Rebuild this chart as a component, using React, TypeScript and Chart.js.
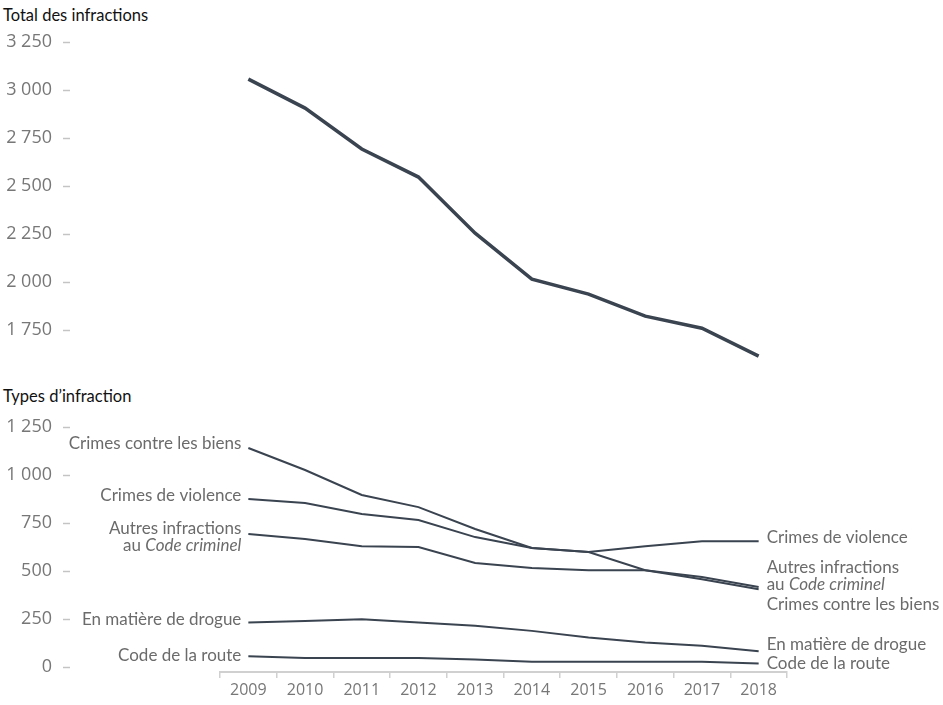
import { useEffect, useRef } from "react";
import { Chart, registerables } from "chart.js";

Chart.register(...registerables);

// ─── Data ────────────────────────────────────────────────────────
const YEARS = ["2009", "2010", "2011", "2012", "2013", "2014", "2015", "2016", "2017", "2018"];

const TOTAL = [3057, 2906, 2693, 2547, 2255, 2016, 1938, 1823, 1760, 1615];

const BIENS = [1141, 1026, 896, 833, 719, 620, 599, 505, 458, 406];
const VIOLENCE = [875, 854, 797, 766, 677, 620, 599, 630, 656, 656];
const AUTRES = [693, 667, 630, 625, 542, 516, 505, 505, 469, 417];
const DROGUE = [233, 241, 250, 233, 216, 189, 155, 129, 111, 83];
const ROUTE = [57, 48, 48, 48, 40, 28, 28, 28, 28, 19];

const TOP_TICKS = [1750, 2000, 2250, 2500, 2750, 3000, 3250];
const BOTTOM_TICKS = [0, 250, 500, 750, 1000, 1250];

type Seg = { text: string; italic?: boolean };

// Series names (lines of segments, italic where the source uses italics)
const SERIES_LABELS: Seg[][][] = [
  [[{ text: "Crimes contre les biens" }]],
  [[{ text: "Crimes de violence" }]],
  [[{ text: "Autres infractions" }], [{ text: "au " }, { text: "Code criminel", italic: true }]],
  [[{ text: "En matière de drogue" }]],
  [[{ text: "Code de la route" }]],
];

// label nudges (px) relative to first / last point
const LEFT_DY = [-4, -4, -6, -3, -1];
const RIGHT_DY = [15, -4, -20, -7, 0];

const LINE_COLOR = "#3a4350";
const TICK_COLOR = "#777777";
const DASH_COLOR = "#c4c4c4";
const LABEL_COLOR = "#6b6b6b";
const AXIS_W = 220;
const PAD_RIGHT = 156;

function fmtNum(v: number): string {
  return String(v).replace(/\B(?=(\d{3})+(?!\d))/g, " ");
}

// ─── Plugins ─────────────────────────────────────────────────────
// y tick labels drawn at the far left, followed by a short dash
const yTicksPlugin = {
  id: "yTicks",
  afterDraw(chart: Chart) {
    const { ctx } = chart;
    const y = chart.scales.y;
    ctx.save();
    ctx.font = "18px 'Open Sans', sans-serif";
    ctx.fillStyle = TICK_COLOR;
    ctx.textAlign = "right";
    ctx.textBaseline = "middle";
    ctx.strokeStyle = DASH_COLOR;
    ctx.lineWidth = 1.5;
    y.ticks.forEach((t) => {
      const py = y.getPixelForValue(t.value);
      ctx.fillText(fmtNum(t.value), 52, py);
      const ly = Math.round(py) + 0.5;
      ctx.beginPath();
      ctx.moveTo(63, ly);
      ctx.lineTo(70, ly);
      ctx.stroke();
    });
    ctx.restore();
  },
};

function drawLines(ctx: CanvasRenderingContext2D, lines: Seg[][], x: number, y: number, align: "left" | "right") {
  const size = 17;
  lines.forEach((line, li) => {
    const widths = line.map((s) => {
      ctx.font = `${s.italic ? "italic " : ""}${size}px Lato, sans-serif`;
      return ctx.measureText(s.text).width;
    });
    const total = widths.reduce((a, b) => a + b, 0);
    let cx = align === "right" ? x - total : x;
    line.forEach((s, si) => {
      ctx.font = `${s.italic ? "italic " : ""}${size}px Lato, sans-serif`;
      ctx.fillText(s.text, cx, y + li * 17);
      cx += widths[si];
    });
  });
}

const seriesLabelPlugin = {
  id: "seriesLabels",
  afterDatasetsDraw(chart: Chart) {
    const { ctx } = chart;
    ctx.save();
    ctx.fillStyle = LABEL_COLOR;
    ctx.textAlign = "left";
    ctx.textBaseline = "middle";
    chart.data.datasets.forEach((_, i) => {
      const meta = chart.getDatasetMeta(i);
      const first = meta.data[0];
      const last = meta.data[meta.data.length - 1];
      drawLines(ctx, SERIES_LABELS[i], first.x - 7, first.y + LEFT_DY[i], "right");
      drawLines(ctx, SERIES_LABELS[i], last.x + 8, last.y + RIGHT_DY[i], "left");
    });
    ctx.restore();
  },
};

function yScale(min: number, max: number, ticks: number[]) {
  return {
    min,
    max,
    afterFit: (s: { width: number }) => {
      s.width = AXIS_W;
    },
    afterBuildTicks: (s: { ticks: { value: number }[] }) => {
      s.ticks = ticks.map((v) => ({ value: v }));
    },
    grid: { display: false, drawTicks: false },
    border: { display: false },
    ticks: { display: false },
  };
}

// ─── Total chart ─────────────────────────────────────────────────
function TotalChart() {
  const canvasRef = useRef<HTMLCanvasElement>(null);
  useEffect(() => {
    if (!canvasRef.current) return;
    const chart = new Chart(canvasRef.current, {
      type: "line",
      plugins: [yTicksPlugin],
      data: {
        labels: YEARS,
        datasets: [
          {
            label: "Total des infractions",
            data: TOTAL,
            borderColor: LINE_COLOR,
            borderWidth: 3.5,
            pointRadius: 0,
            tension: 0,
          },
        ],
      },
      options: {
        animation: false,
        responsive: true,
        maintainAspectRatio: false,
        layout: { padding: { top: 42, bottom: 11, left: 0, right: PAD_RIGHT } },
        plugins: { legend: { display: false }, tooltip: { enabled: false } },
        scales: {
          x: { display: false, offset: true },
          y: yScale(1600, 3250, TOP_TICKS) as never,
        },
      },
    });
    return () => chart.destroy();
  }, []);
  return <canvas ref={canvasRef} />;
}

// ─── Types chart ─────────────────────────────────────────────────
function TypesChart() {
  const canvasRef = useRef<HTMLCanvasElement>(null);
  useEffect(() => {
    if (!canvasRef.current) return;
    const series = [BIENS, VIOLENCE, AUTRES, DROGUE, ROUTE];
    const chart = new Chart(canvasRef.current, {
      type: "line",
      plugins: [yTicksPlugin, seriesLabelPlugin],
      data: {
        labels: YEARS,
        datasets: series.map((d, i) => ({
          label: SERIES_LABELS[i].map((l) => l.map((s) => s.text).join("")).join(" "),
          data: d,
          borderColor: LINE_COLOR,
          borderWidth: 2,
          pointRadius: 0,
          tension: 0,
        })),
      },
      options: {
        animation: false,
        responsive: true,
        maintainAspectRatio: false,
        layout: { padding: { top: 47, bottom: 0, left: 0, right: PAD_RIGHT } },
        plugins: { legend: { display: false }, tooltip: { enabled: false } },
        scales: {
          x: {
            offset: true,
            afterFit: (s) => {
              s.height = 33;
            },
            grid: {
              offset: true,
              drawOnChartArea: false,
              tickLength: 6,
              color: "#d0d0d0",
              lineWidth: 1.5,
            },
            border: { color: "#d0d0d0", width: 2 },
            ticks: {
              color: TICK_COLOR,
              padding: 3,
              font: { family: "Open Sans", size: 16 },
            },
          },
          y: yScale(-25, 1250, BOTTOM_TICKS) as never,
        },
      },
    });
    return () => chart.destroy();
  }, []);
  return <canvas ref={canvasRef} />;
}

const titleStyle: React.CSSProperties = {
  position: "absolute",
  left: 3,
  fontFamily: "Lato, sans-serif",
  fontSize: 16.5,
  lineHeight: "20px",
  color: "#111",
  whiteSpace: "nowrap",
};

export default function App() {
  return (
    <div style={{ position: "absolute", left: 0, top: 0, width: 943, height: 705, background: "#fff" }}>
      <div style={{ ...titleStyle, top: 5 }}>Total des infractions</div>
      <div style={{ position: "absolute", left: 0, top: 0, width: 943, height: 370 }}>
        <TotalChart />
      </div>
      <div style={{ ...titleStyle, top: 386 }}>Types d’infraction</div>
      <div style={{ position: "absolute", left: 0, top: 380, width: 943, height: 325 }}>
        <TypesChart />
      </div>
    </div>
  );
}
